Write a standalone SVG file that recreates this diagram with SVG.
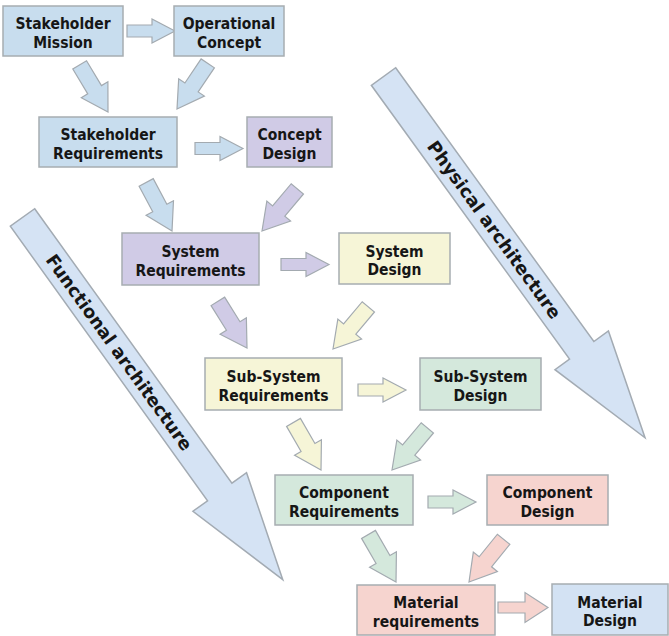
<svg xmlns="http://www.w3.org/2000/svg" xmlns:xlink="http://www.w3.org/1999/xlink" width="669" height="636" viewBox="0 0 669 636">
  <style>
    .box { stroke: #a7adb1; stroke-width: 1.5; }
    .lbl { font-family: "DejaVu Sans Condensed", "DejaVu Sans", Verdana, sans-serif; font-stretch: condensed; font-weight: bold; font-size: 15.5px; fill: #161616; text-anchor: middle; }
    .big { fill: #d5e3f4; stroke: #a3abb3; stroke-width: 1.5; }
    .bigtxt { font-family: "DejaVu Sans", Verdana, sans-serif; font-weight: bold; font-size: 18px; fill: #161616; text-anchor: middle; }
    .arr { stroke: #a3aab0; stroke-width: 1.2; stroke-linejoin: miter; }
    .blue { fill: #c8ddee; }
    .purple { fill: #d0cbe6; }
    .yellow { fill: #f6f5d7; }
    .green { fill: #d4e8dc; }
    .pink { fill: #f6d4cf; }
    .lblue { fill: #d3e2f3; }
  </style>
  <defs>
    <!-- block arrows drawn with the tip at the origin, pointing along +x -->
    <path id="diag" d="M0,0 L-26,-15.5 L-26,-8 L-55,-8 L-55,8 L-26,8 L-26,15.5 Z"/>
    <path id="horiz" d="M0,0 L-23,-12 L-23,-6 L-48,-6 L-48,6 L-23,6 L-23,12 Z"/>
    <path id="horizw" d="M0,0 L-23,-15 L-23,-5.5 L-50,-5.5 L-50,5.5 L-23,5.5 L-23,15 Z"/>
    <!-- long architecture arrow, tail centre at origin -->
    <path id="long" d="M0,-15 L338,-15 L338,-33 L446,0 L338,33 L338,15 L0,15 Z"/>
  </defs>

  <g id="functional-architecture">
    <g transform="translate(22.5,217.5) rotate(54.3)">
      <use xlink:href="#long" class="big"/>
      <text class="bigtxt" x="166" y="6.5">Functional architecture</text>
    </g>
  </g>
  <g id="physical-architecture">
    <g transform="translate(383.5,76.5) rotate(54.1)">
      <use xlink:href="#long" class="big"/>
      <text class="bigtxt" x="189" y="6.5">Physical architecture</text>
    </g>
  </g>

  <g id="connectors">
    <use xlink:href="#horiz" class="arr blue" transform="translate(175,31)"/>
    <use xlink:href="#diag" class="arr blue" transform="translate(108,112) rotate(59)"/>
    <use xlink:href="#diag" class="arr blue" transform="translate(177,109) rotate(124)"/>
    <use xlink:href="#horiz" class="arr blue" transform="translate(243,148.5)"/>
    <use xlink:href="#diag" class="arr blue" transform="translate(172,231) rotate(62)"/>
    <use xlink:href="#diag" class="arr purple" transform="translate(262,231) rotate(130)"/>
    <use xlink:href="#horiz" class="arr purple" transform="translate(329,264.5)"/>
    <use xlink:href="#diag" class="arr purple" transform="translate(247,348) rotate(58)"/>
    <use xlink:href="#diag" class="arr yellow" transform="translate(333,349) rotate(130)"/>
    <use xlink:href="#horiz" class="arr yellow" transform="translate(406,390)"/>
    <use xlink:href="#diag" class="arr yellow" transform="translate(321,470) rotate(60)"/>
    <use xlink:href="#diag" class="arr green" transform="translate(392,470) rotate(130)"/>
    <use xlink:href="#horiz" class="arr green" transform="translate(476,502)"/>
    <use xlink:href="#diag" class="arr green" transform="translate(396,582) rotate(60)"/>
    <use xlink:href="#diag" class="arr pink" transform="translate(469,582) rotate(129)"/>
    <use xlink:href="#horizw" class="arr pink" transform="translate(548,607.5)"/>
  </g>

  <g id="stakeholder-mission">
    <rect class="box blue" x="3" y="6" width="120" height="50"/>
    <text class="lbl" x="63" y="29">Stakeholder</text>
    <text class="lbl" x="63" y="47.5">Mission</text>
  </g>
  <g id="operational-concept">
    <rect class="box blue" x="174" y="6" width="110" height="50"/>
    <text class="lbl" x="229" y="29">Operational</text>
    <text class="lbl" x="229" y="47.5">Concept</text>
  </g>
  <g id="stakeholder-requirements">
    <rect class="box blue" x="39" y="117" width="138" height="50"/>
    <text class="lbl" x="108" y="140">Stakeholder</text>
    <text class="lbl" x="108" y="158.5">Requirements</text>
  </g>
  <g id="concept-design">
    <rect class="box purple" x="247" y="117" width="85" height="50"/>
    <text class="lbl" x="289.5" y="140">Concept</text>
    <text class="lbl" x="289.5" y="158.5">Design</text>
  </g>
  <g id="system-requirements">
    <rect class="box purple" x="122" y="233" width="137" height="52"/>
    <text class="lbl" x="190.5" y="257">System</text>
    <text class="lbl" x="190.5" y="275.5">Requirements</text>
  </g>
  <g id="system-design">
    <rect class="box yellow" x="339" y="233" width="111" height="51"/>
    <text class="lbl" x="394.5" y="256.5">System</text>
    <text class="lbl" x="394.5" y="275">Design</text>
  </g>
  <g id="sub-system-requirements">
    <rect class="box yellow" x="205" y="358" width="137" height="52"/>
    <text class="lbl" x="273.5" y="382">Sub-System</text>
    <text class="lbl" x="273.5" y="400.5">Requirements</text>
  </g>
  <g id="sub-system-design">
    <rect class="box green" x="420" y="358" width="121" height="52"/>
    <text class="lbl" x="480.5" y="382">Sub-System</text>
    <text class="lbl" x="480.5" y="400.5">Design</text>
  </g>
  <g id="component-requirements">
    <rect class="box green" x="275" y="475" width="138" height="50"/>
    <text class="lbl" x="344" y="498">Component</text>
    <text class="lbl" x="344" y="516.5">Requirements</text>
  </g>
  <g id="component-design">
    <rect class="box pink" x="487" y="475" width="121" height="50"/>
    <text class="lbl" x="547.5" y="498">Component</text>
    <text class="lbl" x="547.5" y="516.5">Design</text>
  </g>
  <g id="material-requirements">
    <rect class="box pink" x="357" y="585" width="138" height="50"/>
    <text class="lbl" x="426" y="608">Material</text>
    <text class="lbl" x="426" y="626.5">requirements</text>
  </g>
  <g id="material-design">
    <rect class="box lblue" x="552" y="584" width="116" height="51"/>
    <text class="lbl" x="610" y="607.5">Material</text>
    <text class="lbl" x="610" y="626">Design</text>
  </g>
</svg>
